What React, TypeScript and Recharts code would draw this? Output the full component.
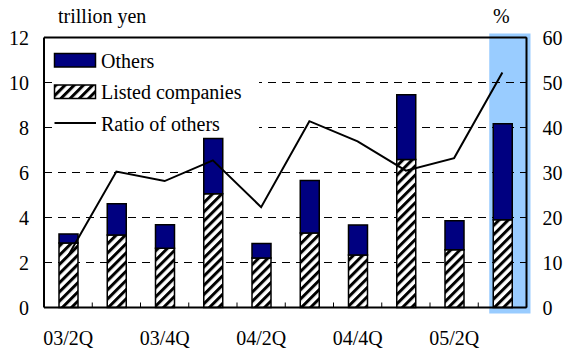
import React from 'react'
import {
  ComposedChart,
  Bar,
  Line,
  XAxis,
  YAxis,
  CartesianGrid,
  Legend,
  ReferenceArea,
  ReferenceLine
} from 'recharts'

const quarters = ['03/2Q', '03/3Q', '03/4Q', '04/1Q', '04/2Q', '04/3Q', '04/4Q', '05/1Q', '05/2Q', '05/3Q']
// trillion yen
const listedCompanies = [2.87, 3.22, 2.63, 5.06, 2.2, 3.31, 2.33, 6.58, 2.57, 3.9]
const others = [0.4, 1.39, 1.05, 2.45, 0.65, 2.34, 1.34, 2.88, 1.29, 4.27]
// %
const ratioOfOthers = [11.5, 30.2, 28.1, 32.7, 22.3, 41.4, 36.9, 30.4, 33.2, 52.2]

const leftTicks = [0, 2, 4, 6, 8, 10, 12]
const rightTicks = [0, 10, 20, 30, 40, 50, 60]
const highlightQuarter = '05/3Q'
const legendOrder = ['others', 'listed', 'ratio']

const data = quarters.map((q, i) => ({
  quarter: q,
  listed: listedCompanies[i],
  others: others[i],
  ratio: ratioOfOthers[i]
}))

const FONT = '"Liberation Serif", "Times New Roman", serif'
const NAVY = '#000080'
const HIGHLIGHT = '#99ccff'

// labels on every other quarter, small inward ticks on the band edges
function QuarterTick(props: any) {
  const { x, y, payload, index, width, visibleTicksCount } = props
  const band = width / visibleTicksCount
  return (
    <g>
      {index < visibleTicksCount - 1 && Number.isFinite(band) && (
        <line x1={x + band / 2} x2={x + band / 2} y1={y} y2={y - 5} stroke="#000" strokeWidth={1} />
      )}
      {index % 2 === 0 && (
        <text x={x} y={y + 37} textAnchor="middle" fontFamily={FONT} fontSize={20} fill="#000">
          {payload.value}
        </text>
      )}
    </g>
  )
}

function HighlightShape(props: any) {
  const { x, y, width, height, fill } = props
  return <rect x={x + 11} y={y - 4} width={width - 7} height={height + 10} fill={fill} />
}

function LegendBox({ payload }: any) {
  const items = legendOrder
    .map((k) => (payload || []).find((p: any) => p.dataKey === k))
    .filter(Boolean)
  return (
    <svg width={206} height={94} style={{ display: 'block' }}>
      {items.map((item: any, i: number) => {
        const top = 13.5 + i * 31.5
        return (
          <g key={item.dataKey}>
            {item.type === 'line' ? (
              <line x1={1.5} x2={43} y1={top + 6.5} y2={top + 6.5} stroke="#000" strokeWidth={2} />
            ) : (
              <rect x={1.5} y={top} width={41} height={13.5} fill={item.color} stroke="#000" strokeWidth={1.5} />
            )}
            <text x={48} y={top + 14} fontFamily={FONT} fontSize={20} fill="#000">
              {item.value}
            </text>
          </g>
        )
      })}
    </svg>
  )
}

export default function App() {
  return (
    <div style={{ position: 'absolute', left: 0, top: 0, width: 565, height: 349, background: '#fff' }}>
      <ComposedChart
        width={565}
        height={349}
        data={data}
        margin={{ top: 37.5, right: 0, bottom: 0, left: 0 }}
        barCategoryGap={0}
      >
        <defs>
          <pattern id="hatch" patternUnits="userSpaceOnUse" width={6.5} height={6.5} patternTransform="rotate(45)">
            <rect width={6.5} height={6.5} fill="#fff" />
            <rect width={3} height={6.5} fill="#000" />
          </pattern>
        </defs>
        <ReferenceArea
          yAxisId="left"
          x1={highlightQuarter}
          x2={highlightQuarter}
          ifOverflow="visible"
          fill={HIGHLIGHT}
          fillOpacity={1}
          stroke="none"
          zIndex={-150}
          shape={HighlightShape}
        />
        <CartesianGrid yAxisId="left" vertical={false} stroke="#000" strokeDasharray="8 6" />
        <XAxis
          dataKey="quarter"
          height={41.5}
          interval={0}
          tickSize={0}
          tickMargin={0}
          tickLine={false}
          axisLine={{ stroke: '#000', strokeWidth: 2 }}
          tick={<QuarterTick />}
        />
        <YAxis
          yAxisId="left"
          width={44}
          domain={[0, 12]}
          ticks={leftTicks}
          interval={0}
          tickSize={-6}
          tickMargin={21}
          axisLine={{ stroke: '#000', strokeWidth: 2 }}
          tickLine={{ stroke: '#000' }}
          tick={{ fill: '#000', fontSize: 20, fontFamily: FONT }}
        />
        <YAxis
          yAxisId="right"
          orientation="right"
          width={38.5}
          domain={[0, 60]}
          ticks={rightTicks}
          interval={0}
          tickSize={-6}
          tickMargin={22}
          axisLine={{ stroke: '#000', strokeWidth: 2 }}
          tickLine={{ stroke: '#000' }}
          tick={{ fill: '#000', fontSize: 20, fontFamily: FONT }}
        />
        <ReferenceLine yAxisId="left" y={12} stroke="#000" strokeWidth={2} />
        <Bar
          yAxisId="left"
          dataKey="listed"
          name="Listed companies"
          stackId="s"
          barSize={19}
          fill="url(#hatch)"
          stroke="#000"
          strokeWidth={1.5}
          isAnimationActive={false}
        />
        <Bar
          yAxisId="left"
          dataKey="others"
          name="Others"
          stackId="s"
          barSize={19}
          fill={NAVY}
          stroke="#000"
          strokeWidth={1.5}
          isAnimationActive={false}
        />
        <Line
          yAxisId="right"
          type="linear"
          dataKey="ratio"
          name="Ratio of others"
          stroke="#000"
          strokeWidth={2}
          dot={false}
          isAnimationActive={false}
        />
        <Legend
          layout="vertical"
          align="center"
          verticalAlign="middle"
          content={<LegendBox />}
          wrapperStyle={{ position: 'absolute', left: 53, top: 40, width: 206, height: 94, background: '#fff' }}
        />
      </ComposedChart>
      <svg
        width={565}
        height={349}
        style={{ position: 'absolute', left: 0, top: 0, pointerEvents: 'none' }}
      >
        <text x={58} y={23} fontFamily={FONT} fontSize={20} fill="#000">trillion yen</text>
        <text x={493} y={23} fontFamily={FONT} fontSize={20} fill="#000">%</text>
      </svg>
    </div>
  )
}
